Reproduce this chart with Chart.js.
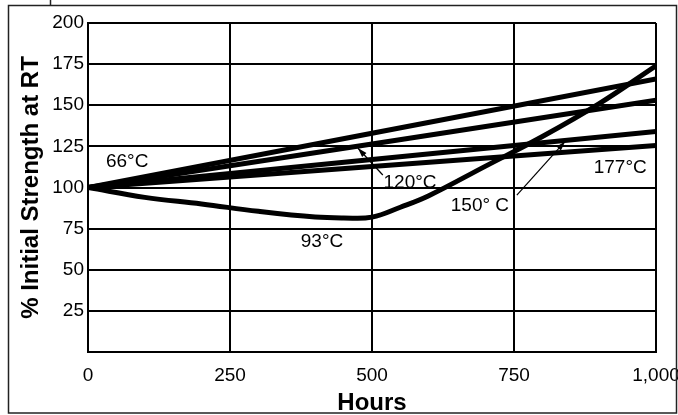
<!DOCTYPE html>
<html>
<head>
<meta charset="utf-8">
<script src="https://cdn.jsdelivr.net/npm/chart.js@4.4.1/dist/chart.umd.min.js"></script>
<style>
  body { margin: 0; background: #fff; }
</style>
</head>
<body>
<canvas id="myChart" width="678" height="415"></canvas>
<script>
// values
const hours93 = [0, 100, 200, 300, 400, 450, 500, 550, 600, 700, 800, 900, 1000]
const strength93 = [100, 94, 90, 85.5, 82, 81.5, 82, 88, 95, 113, 131, 151, 174]

const hoursLinear = [0, 1000]
const strength66 = [100, 166]
const strength120 = [100, 153]
const strength150 = [100, 134]
const strength177 = [100, 125.5]

const yTicks = [25, 50, 75, 100, 125, 150, 175, 200]
const xTicks = [0, 250, 500, 750, 1000]
const seriesLabels = ['66°C', '93°C', '120°C', '150° C', '177°C']

const ctx = document.getElementById('myChart').getContext('2d')
const fontFamily = '"Liberation Sans", Arial, sans-serif'

function toPoints(xs, ys) {
    let pts = []
    xs.forEach((x, i) => {
        pts.push({x: x, y: ys[i]})
    })
    return pts
}

function lineSet(label, xs, ys) {
    return {
        label: label,
        data: toPoints(xs, ys),
        borderColor: '#000',
        borderWidth: 5,
        pointRadius: 0,
        fill: false,
        tension: 0.4
    }
}

// text labels + the two arrows, placed in data units
const notes = [
    {text: seriesLabels[0], x: 69, y: 115.5},
    {text: seriesLabels[1], x: 412, y: 67},
    {text: seriesLabels[2], x: 567, y: 103},
    {text: seriesLabels[3], x: 690, y: 89},
    {text: seriesLabels[4], x: 937, y: 112}
]
const arrows = [
    {x1: 519, y1: 107.6, x2: 475, y2: 124},
    {x1: 755, y1: 95.4, x2: 840, y2: 128}
]

const notesPlugin = {
    id: 'notes',
    afterDatasetsDraw(chart) {
        const c = chart.ctx
        const xs = chart.scales.x
        const ys = chart.scales.y
        c.save()
        c.fillStyle = '#000'
        c.font = '19px ' + fontFamily
        c.textAlign = 'center'
        c.textBaseline = 'middle'
        notes.forEach(n => {
            c.fillText(n.text, xs.getPixelForValue(n.x), ys.getPixelForValue(n.y))
        })
        c.strokeStyle = '#000'
        c.lineWidth = 1.2
        arrows.forEach(a => {
            const x1 = xs.getPixelForValue(a.x1), y1 = ys.getPixelForValue(a.y1)
            const x2 = xs.getPixelForValue(a.x2), y2 = ys.getPixelForValue(a.y2)
            c.beginPath()
            c.moveTo(x1, y1)
            c.lineTo(x2, y2)
            c.stroke()
            const ang = Math.atan2(y2 - y1, x2 - x1)
            c.beginPath()
            c.moveTo(x2, y2)
            c.lineTo(x2 - 10 * Math.cos(ang - 0.3), y2 - 10 * Math.sin(ang - 0.3))
            c.lineTo(x2 - 10 * Math.cos(ang + 0.3), y2 - 10 * Math.sin(ang + 0.3))
            c.closePath()
            c.fill()
        })
        c.restore()
    }
}

// frame round the whole figure
const framePlugin = {
    id: 'frame',
    afterDraw(chart) {
        const c = chart.ctx
        c.save()
        c.strokeStyle = '#222'
        c.lineWidth = 1.5
        c.strokeRect(8.5, 5.5, 668, 407.5)
        c.beginPath()
        c.moveTo(50.5, 0)
        c.lineTo(50.5, 5)
        c.stroke()
        c.restore()
    }
}

const config = {
    type: 'line',
    data: {
        datasets: [
            lineSet(seriesLabels[0], hoursLinear, strength66),
            lineSet(seriesLabels[1], hours93, strength93),
            lineSet(seriesLabels[2], hoursLinear, strength120),
            lineSet(seriesLabels[3], hoursLinear, strength150),
            lineSet(seriesLabels[4], hoursLinear, strength177)
        ]
    },
    options: {
        responsive: false,
        animation: false,
        layout: {padding: {left: 0, right: 22, top: 23, bottom: 0}},
        plugins: {legend: {display: false}, tooltip: {enabled: false}},
        scales: {
            x: {
                type: 'linear',
                min: 0,
                max: 1000,
                afterBuildTicks: (s) => { s.ticks = xTicks.map(v => ({value: v})) },
                afterFit: (s) => { s.height = 63; s.paddingLeft = 0; s.paddingRight = 0 },
                grid: {color: '#000', lineWidth: 2, drawTicks: false},
                border: {color: '#000', width: 2},
                ticks: {
                    color: '#000',
                    padding: 12,
                    maxRotation: 0,
                    font: {family: fontFamily, size: 19},
                    callback: (v) => v.toLocaleString('en-US')
                },
                title: {
                    display: true,
                    text: 'Hours',
                    color: '#000',
                    padding: {top: 0, bottom: 0},
                    font: {family: fontFamily, size: 24, weight: 'bold', lineHeight: 1}
                }
            },
            y: {
                min: 0,
                max: 200,
                afterBuildTicks: (s) => { s.ticks = [0].concat(yTicks).map(v => ({value: v})) },
                afterFit: (s) => { s.width = 88; s.paddingTop = 0; s.paddingBottom = 0 },
                grid: {color: '#000', lineWidth: 2, drawTicks: false},
                border: {color: '#000', width: 2},
                ticks: {
                    color: '#000',
                    padding: 4,
                    font: {family: fontFamily, size: 19},
                    callback: (v) => v === 0 ? '' : v
                },
                title: {
                    display: true,
                    text: '% Initial Strength at RT',
                    color: '#000',
                    padding: {top: 19, bottom: 0},
                    font: {family: fontFamily, size: 24, weight: 'bold', lineHeight: 1}
                }
            }
        }
    },
    plugins: [notesPlugin, framePlugin]
}

const myChart = new Chart(ctx, config)
</script>
</body>
</html>
